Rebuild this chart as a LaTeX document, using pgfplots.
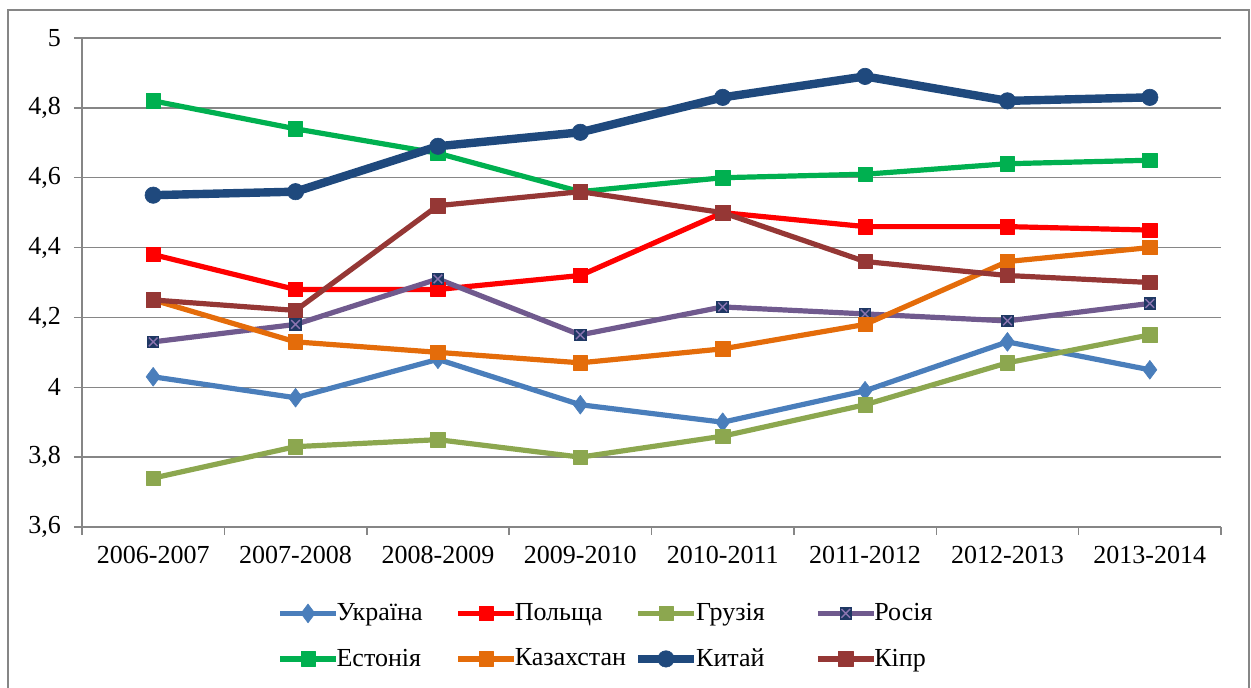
\documentclass[border=0pt]{standalone}
\usepackage{fontspec}
\setmainfont{Liberation Serif}
\usepackage{pgfplots}
\pgfplotsset{compat=1.18}

\definecolor{gridgray}{HTML}{868686}
\definecolor{cUkr}{HTML}{4A7EBB}
\definecolor{cPol}{HTML}{FF0000}
\definecolor{cGeo}{HTML}{8CA74F}
\definecolor{cRus}{HTML}{705A8E}
\definecolor{cRusM}{HTML}{1F3864}
\definecolor{cRusX}{HTML}{8A74B0}
\definecolor{cEst}{HTML}{00B050}
\definecolor{cKaz}{HTML}{E46C0A}
\definecolor{cChn}{HTML}{1F497D}
\definecolor{cCyp}{HTML}{953735}

\pgfdeclareplotmark{sqx}{%
  \pgfsetfillcolor{cRusM}%
  \pgfpathrectangle{\pgfqpoint{-\pgfplotmarksize}{-\pgfplotmarksize}}{\pgfqpoint{2\pgfplotmarksize}{2\pgfplotmarksize}}%
  \pgfusepath{fill}%
  \pgfsetstrokecolor{cRusX}%
  \pgfsetlinewidth{0.7pt}%
  \pgfpathmoveto{\pgfqpoint{-0.7\pgfplotmarksize}{-0.7\pgfplotmarksize}}%
  \pgfpathlineto{\pgfqpoint{0.7\pgfplotmarksize}{0.7\pgfplotmarksize}}%
  \pgfpathmoveto{\pgfqpoint{-0.7\pgfplotmarksize}{0.7\pgfplotmarksize}}%
  \pgfpathlineto{\pgfqpoint{0.7\pgfplotmarksize}{-0.7\pgfplotmarksize}}%
  \pgfusepath{stroke}%
}

\newcommand{\legtxt}[1]{\makebox[56.5pt][l]{#1}}

\begin{document}
\begin{tikzpicture}
\useasboundingbox (-41pt,-80.5pt) rectangle (584.5pt,263.5pt);
\draw[color=gridgray, line width=0.75pt] (-37pt,-81pt) -- (-37pt,258.5pt) -- (583.5pt,258.5pt) -- (583.5pt,-81pt);
\begin{axis}[
  at={(0pt,0pt)}, anchor=south west,
  scale only axis, width=569.5pt, height=244.5pt,
  xmin=-0.5, xmax=7.5, ymin=3.6, ymax=5,
  axis lines*=left,
  axis line style={gridgray, line width=0.75pt},
  ytick={3.6,3.8,4,4.2,4.4,4.6,4.8,5},
  ymajorgrids,
  grid style={gridgray, line width=0.75pt},
  tick align=outside,
  major tick length=4pt, minor tick length=4pt,
  tick style={gridgray, line width=0.75pt},
  xtick={0,1,2,3,4,5,6,7},
  xticklabels={2006-2007,2007-2008,2008-2009,2009-2010,2010-2011,2011-2012,2012-2013,2013-2014},
  every major x tick/.append style={draw=none},
  minor xtick={-0.5,0.5,1.5,2.5,3.5,4.5,5.5,6.5,7.5},
  /pgf/number format/assume math mode=true,
  /pgf/number format/use comma,
  /pgf/number format/fixed,
  tick label style={font=\fontsize{13}{15}\selectfont},
  yticklabel style={xshift=-3pt},
  xticklabel style={yshift=-2pt},
  line join=round,
  clip=false,
  legend columns=4,
  legend cell align=left,
  legend style={draw=none, fill=none, at={(0.1712,-0.143)}, anchor=north west,
    inner xsep=0pt,
    font=\fontsize{13}{15}\selectfont,
    nodes={inner xsep=0pt, inner ysep=1pt},
    row sep=10.5pt,
    /tikz/every odd column/.append style={column sep=-1pt},
    /tikz/every even column/.append style={column sep=3pt}},
  legend image code/.code={\draw[mark repeat=2,mark phase=2,#1] plot coordinates {(0pt,0pt)(14pt,0pt)(28pt,0pt)};},
]
\addplot[color=cUkr, line width=2.6pt, mark=diamond*, mark size=4.7pt, mark options={solid, fill=cUkr, draw=cUkr, line width=0.3pt}]
  coordinates {(0,4.03)(1,3.97)(2,4.08)(3,3.95)(4,3.90)(5,3.99)(6,4.13)(7,4.05)};
\addlegendentry{\legtxt{Україна}}
\addplot[color=cPol, line width=2.6pt, mark=square*, mark size=3.6pt, mark options={solid, fill=cPol, draw=cPol, line width=0.3pt}]
  coordinates {(0,4.38)(1,4.28)(2,4.28)(3,4.32)(4,4.50)(5,4.46)(6,4.46)(7,4.45)};
\addlegendentry{\legtxt{Польща}}
\addplot[color=cGeo, line width=2.6pt, mark=square*, mark size=3.6pt, mark options={solid, fill=cGeo, draw=cGeo, line width=0.3pt}]
  coordinates {(0,3.74)(1,3.83)(2,3.85)(3,3.80)(4,3.86)(5,3.95)(6,4.07)(7,4.15)};
\addlegendentry{\legtxt{Грузія}}
\addplot[color=cRus, line width=2.6pt, mark=sqx, mark size=3.1pt, mark options={solid}]
  coordinates {(0,4.13)(1,4.18)(2,4.31)(3,4.15)(4,4.23)(5,4.21)(6,4.19)(7,4.24)};
\addlegendentry{\legtxt{Росія}}
\addplot[color=cEst, line width=2.6pt, mark=square*, mark size=3.6pt, mark options={solid, fill=cEst, draw=cEst, line width=0.3pt}]
  coordinates {(0,4.82)(1,4.74)(2,4.67)(3,4.56)(4,4.60)(5,4.61)(6,4.64)(7,4.65)};
\addlegendentry{\legtxt{Естонія}}
\addplot[color=cKaz, line width=2.6pt, mark=square*, mark size=3.6pt, mark options={solid, fill=cKaz, draw=cKaz, line width=0.3pt}]
  coordinates {(0,4.25)(1,4.13)(2,4.10)(3,4.07)(4,4.11)(5,4.18)(6,4.36)(7,4.40)};
\addlegendentry{\legtxt{Казахстан}}
\addplot[color=cChn, line width=4.2pt, mark=*, mark size=4.1pt, mark options={solid, fill=cChn, draw=cChn, line width=0.3pt}]
  coordinates {(0,4.55)(1,4.56)(2,4.69)(3,4.73)(4,4.83)(5,4.89)(6,4.82)(7,4.83)};
\addlegendentry{\legtxt{Китай}}
\addplot[color=cCyp, line width=2.6pt, mark=square*, mark size=3.6pt, mark options={solid, fill=cCyp, draw=cCyp, line width=0.3pt}]
  coordinates {(0,4.25)(1,4.22)(2,4.52)(3,4.56)(4,4.50)(5,4.36)(6,4.32)(7,4.30)};
\addlegendentry{\legtxt{Кіпр}}
\end{axis}
\end{tikzpicture}
\end{document}
